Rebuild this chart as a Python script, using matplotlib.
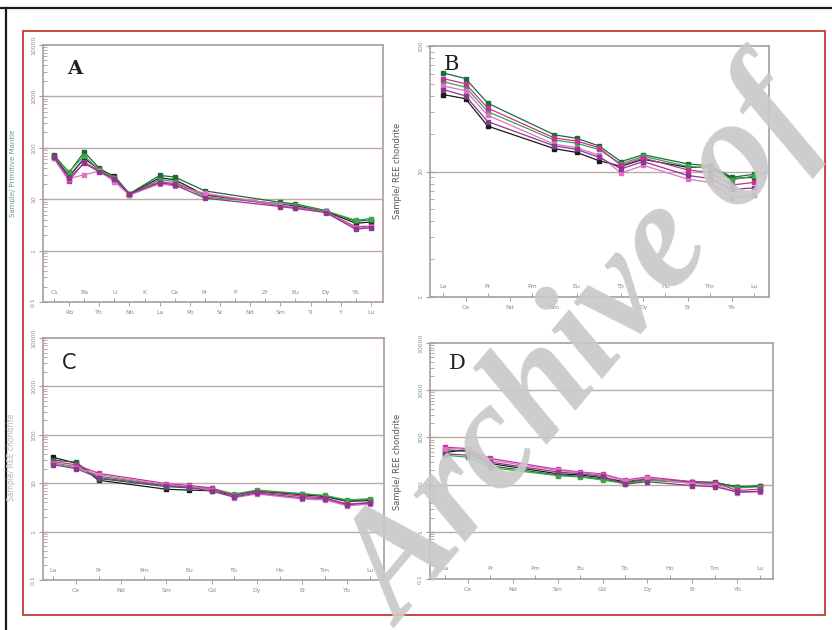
import matplotlib
matplotlib.use("Agg")
import matplotlib.pyplot as plt
import numpy as np
from matplotlib.ticker import FixedLocator, NullFormatter, LogLocator
from matplotlib.lines import Line2D
from matplotlib.patches import Rectangle

# ---------------- data ----------------
spider_elements = ["Cs", "Rb", "Ba", "Th", "U", "Nb", "K", "La", "Ce", "Pb", "Pr",
                   "Sr", "P", "Nd", "Zr", "Sm", "Eu", "Ti", "Dy", "Y", "Yb", "Lu"]
spider_used = ["Cs", "Rb", "Ba", "Th", "U", "Nb", "La", "Ce", "Pr", "Sm", "Eu", "Dy", "Yb", "Lu"]

ree_elements = ["La", "Ce", "Pr", "Nd", "Pm", "Sm", "Eu", "Gd", "Tb", "Dy", "Ho", "Er", "Tm", "Yb", "Lu"]
ree_used = ["La", "Ce", "Pr", "Sm", "Eu", "Gd", "Tb", "Dy", "Er", "Tm", "Yb", "Lu"]

series_colors = ["#1a1a1a", "#1e6b35", "#3aa64a", "#c8309a", "#e070c8", "#8a3a8a"]

A_s1 = [68, 28, 62, 38, 28, 12.5, 26, 24, 12, 8.0, 7.5, 5.8, 3.4, 3.6]
A_s2 = [72, 33, 83, 40, 27, 12.8, 29, 27, 14.5, 8.7, 8.1, 6.0, 3.7, 4.0]
A_s3 = [65, 34, 70, 37, 26, 12.0, 24, 22, 11, 8.2, 7.8, 5.9, 3.9, 4.2]
A_s4 = [62, 23, 52, 36, 24, 12.3, 22, 20, 12.5, 7.5, 7.0, 5.7, 2.9, 3.0]
A_s5 = [64, 25, 30, 35, 22, 12.0, 20, 18, 13, 7.8, 6.8, 5.6, 2.7, 2.9]
A_s6 = [66, 26, 50, 34, 25, 12.6, 21, 19, 10.5, 7.2, 6.6, 5.5, 2.6, 2.8]

B_s1 = [41, 38, 23, 15.2, 14.2, 12.2, 11.0, 12.5, 10.8, 10.8, 8.8, 9.0]
B_s2 = [61, 55, 35, 19.6, 18.4, 16.0, 12.0, 13.6, 11.5, 11.1, 9.0, 9.5]
B_s3 = [52, 47, 30, 17.8, 16.8, 15.0, 11.5, 13.2, 11.0, 10.6, 8.6, 9.2]
B_s4 = [55, 50, 32, 18.5, 17.5, 15.5, 11.2, 12.8, 10.3, 9.8, 7.8, 8.2]
B_s5 = [48, 44, 28, 16.5, 15.5, 13.5, 9.7, 11.2, 8.7, 8.2, 6.2, 6.5]
B_s6 = [45, 40, 25, 16.0, 15.0, 13.0, 10.5, 12.0, 9.3, 8.8, 7.2, 7.4]

C_s1 = [34, 26, 11.5, 7.5, 7.2, 7.0, 5.6, 6.8, 5.8, 5.3, 4.2, 4.4]
C_s2 = [30, 27, 12.5, 8.5, 8.0, 7.5, 5.8, 7.0, 6.0, 5.5, 4.3, 4.6]
C_s3 = [26, 22, 14, 9.0, 8.5, 7.8, 6.0, 7.2, 6.1, 5.6, 4.5, 4.8]
C_s4 = [28, 24, 16, 9.8, 9.0, 8.0, 5.5, 6.6, 5.4, 5.0, 3.7, 4.0]
C_s5 = [25, 21, 15, 9.3, 8.6, 7.2, 5.0, 6.0, 4.7, 4.5, 3.4, 3.7]
C_s6 = [24, 20, 13, 8.8, 8.2, 6.8, 5.2, 6.3, 5.0, 4.8, 3.6, 3.9]

D_s1 = [48, 55, 28, 17, 16, 14, 11.5, 13.5, 11.2, 11.0, 9.0, 9.2]
D_s2 = [55, 50, 25, 16, 15, 13, 11.0, 12.8, 11.5, 11.2, 8.8, 9.5]
D_s3 = [42, 38, 23, 15.5, 14.5, 12.5, 10.5, 12.3, 10.8, 10.5, 8.5, 9.0]
D_s4 = [62, 58, 36, 21, 18.5, 16.8, 12.5, 14.5, 11.5, 10.8, 7.5, 8.0]
D_s5 = [58, 56, 33, 20, 18, 16, 12.0, 13.8, 10.5, 9.8, 6.8, 7.0]
D_s6 = [45, 42, 30, 18.5, 17, 15, 10.2, 11.5, 9.5, 9.0, 7.0, 7.2]

ytick_wide = [0.1, 1, 10, 100, 1000, 10000]
ytick_wide_labels = ["0.1", "1", "10", "100", "1000", "10000"]
ytick_B = [1, 10, 100]
ytick_B_labels = ["1", "10", "100"]

panel_letters = ["A", "B", "C", "D"]
ylabel_ree = "Sample/ REE chondrite"
ylabel_pm = "Sample/ Primitive Mantle"
watermark = "Archive of"

# ---------------- layout ----------------
W, H = 832, 630
fig = plt.figure(figsize=(W / 100, H / 100), dpi=100)
fig.patch.set_facecolor("white")

def rect(x0, y0, x1, y1):
    return [x0 / W, 1 - y1 / H, (x1 - x0) / W, (y1 - y0) / H]

def fx(x):
    return x / W

def fy(y):
    return 1 - y / H

# outer black frame and red border
fig.add_artist(Line2D([fx(0), fx(832)], [fy(8), fy(8)], color="#1a1a1a", lw=1.6))
fig.add_artist(Line2D([fx(6), fx(6)], [fy(8), fy(630)], color="#1a1a1a", lw=1.6))
fig.add_artist(Rectangle((fx(23), fy(615)), fx(825) - fx(23), fy(31) - fy(615),
                         fill=False, ec="#c43a32", lw=1.3, transform=fig.transFigure))

spine_c = "#ab9c9a"
grid_c = "#b9aaa6"
lab_c = "#8c8c8c"

def setup(ax, elements, xlim, yticks, ylabels, ylim):
    ax.set_yscale("log")
    ax.set_ylim(*ylim)
    ax.set_xlim(*xlim)
    for s in ax.spines.values():
        s.set_color(spine_c)
        s.set_linewidth(1.2)
    ax.yaxis.set_major_locator(FixedLocator(yticks))
    ax.set_yticklabels(ylabels, rotation=90, va="center", fontsize=4.5, color=lab_c)
    ax.yaxis.set_minor_locator(LogLocator(base=10, subs=np.arange(2, 10)))
    ax.yaxis.set_minor_formatter(NullFormatter())
    ax.tick_params(axis="y", which="major", direction="inout", length=6, width=0.8,
                   color=spine_c, pad=2)
    ax.tick_params(axis="y", which="minor", direction="in", length=3, width=0.6,
                   color=spine_c)
    for t in yticks:
        if ylim[0] < t < ylim[1]:
            ax.axhline(t, color=grid_c, lw=1.0, zorder=0)
    n = len(elements)
    ev = list(range(0, n, 2))
    od = list(range(1, n, 2))
    ax.set_xticks(ev)
    ax.set_xticklabels([elements[i] for i in ev], fontsize=4.5, color=lab_c)
    ax.set_xticks(od, minor=True)
    ax.set_xticklabels([elements[i] for i in od], minor=True, fontsize=4.5, color=lab_c)
    ax.tick_params(axis="x", which="major", direction="in", length=3, width=0.7,
                   color=spine_c, pad=-9)
    ax.tick_params(axis="x", which="minor", direction="out", length=3, width=0.7,
                   color=spine_c, pad=2.5)

def draw(ax, elements, used, series):
    xs = [elements.index(e) for e in used]
    for vals, c in zip(series, series_colors):
        ax.plot(xs, vals, color=c, lw=0.9, marker="s", ms=2.4, mfc=c, mec=c, zorder=3)

axA = fig.add_axes(rect(43, 45, 383, 302))
setup(axA, spider_elements, (-0.73, 21.8), ytick_wide, ytick_wide_labels, (0.1, 10000))
draw(axA, spider_elements, spider_used, [A_s1, A_s2, A_s3, A_s4, A_s5, A_s6])

axB = fig.add_axes(rect(430, 46, 769, 297))
setup(axB, ree_elements, (-0.6, 14.66), ytick_B, ytick_B_labels, (1, 100))
draw(axB, ree_elements, ree_used, [B_s1, B_s2, B_s3, B_s4, B_s5, B_s6])

axC = fig.add_axes(rect(43, 338, 384, 580))
setup(axC, ree_elements, (-0.46, 14.62), ytick_wide, ytick_wide_labels, (0.1, 10000))
draw(axC, ree_elements, ree_used, [C_s1, C_s2, C_s3, C_s4, C_s5, C_s6])

axD = fig.add_axes(rect(430, 343, 773, 579))
setup(axD, ree_elements, (-0.67, 14.58), ytick_wide, ytick_wide_labels, (0.1, 10000))
draw(axD, ree_elements, ree_used, [D_s1, D_s2, D_s3, D_s4, D_s5, D_s6])

# panel letters
fig.text(fx(67), fy(69), panel_letters[0], fontsize=14, family="DejaVu Serif",
         weight="bold", va="center", ha="left", color="#222222")
fig.text(fx(444), fy(65), panel_letters[1], fontsize=15, family="DejaVu Serif",
         va="center", ha="left", color="#222222")
fig.text(fx(62), fy(363), panel_letters[2], fontsize=15, family="DejaVu Sans",
         va="center", ha="left", color="#222222")
fig.text(fx(449), fy(364), panel_letters[3], fontsize=15, family="DejaVu Serif",
         va="center", ha="left", color="#222222")

# y-axis labels
fig.text(fx(13), fy(173), ylabel_pm, rotation=90, fontsize=5, color="#6f95a0",
         ha="center", va="center")
fig.text(fx(397), fy(171), ylabel_ree, rotation=90, fontsize=6, color="#555555",
         ha="center", va="center")
fig.text(fx(12), fy(457), ylabel_ree, rotation=90, fontsize=5.5, color="#b8b8b8",
         ha="center", va="center")
fig.text(fx(397), fy(462), ylabel_ree, rotation=90, fontsize=6, color="#555555",
         ha="center", va="center")

# watermark
fig.text(fx(585), fy(352), watermark, rotation=50, fontsize=110,
         family="Liberation Serif", weight="bold", style="italic",
         color="#c9c9c9", alpha=0.92, ha="center", va="center", zorder=100)

fig.savefig("out.png", dpi=100, facecolor="white")
